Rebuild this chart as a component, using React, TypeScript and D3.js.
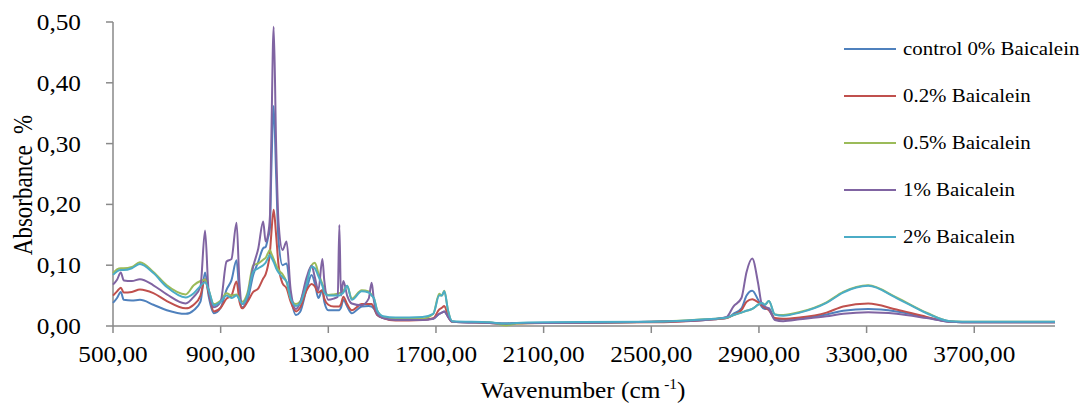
import React from 'react';
import * as d3 from 'd3';

// ---- data ----
const WAVENUMBERS = [
  500, 515, 529, 540, 570, 600, 650, 700, 770, 800, 825, 842, 855, 875, 900, 922, 940, 959, 970, 980,
  1000, 1021, 1040, 1058, 1067, 1076, 1083, 1088, 1097, 1106, 1115, 1130, 1145, 1160, 1180, 1195, 1220,
  1238, 1250, 1263, 1278, 1285, 1300, 1320, 1335, 1341, 1347, 1356, 1370, 1387, 1424, 1450, 1461, 1470,
  1482, 1504, 1550, 1650, 1690, 1712, 1722, 1731, 1745, 1760, 1900, 1960, 2000, 2100, 2500, 2700, 2780,
  2805, 2835, 2854, 2875, 2897, 2910, 2922, 2937, 2959, 2990, 3052, 3151, 3213, 3306, 3411, 3523, 3609,
  3700, 4000,
];

const CONTROL_0 = [
  .038, .046, .056, .043, .042, .043, .035, .026, .020, .026, .040, .088, .050, .021, .030, .060, .075, .108, .050, .031,
  .043, .084, .106, .128, .130, .145, .160, .250, .362, .250, .140, .100, .103, .050, .018, .023, .062,
  .084, .070, .046, .059, .040, .026, .026, .026, .026, .030, .043, .032, .021, .032, .033, .032, .028,
  .018, .013, .010, .011, .012, .020, .022, .024, .015, .007, .005, .004, .005, .005, .007, .010, .013,
  .020, .029, .050, .058, .043, .032, .028, .029, .012, .011, .013, .019, .025, .028, .024, .014, .007,
  .006, .006,
];

const BAICALEIN_02 = [
  .050, .057, .063, .055, .056, .060, .054, .041, .029, .035, .050, .077, .055, .024, .030, .045, .050, .073, .040, .029,
  .040, .056, .062, .078, .085, .100, .120, .150, .191, .150, .100, .070, .062, .040, .024, .030, .059,
  .069, .065, .055, .059, .045, .035, .032, .032, .032, .036, .048, .036, .026, .036, .036, .036, .030,
  .018, .013, .009, .010, .013, .027, .030, .033, .016, .007, .005, .003, .004, .005, .006, .010, .013,
  .018, .026, .040, .044, .039, .034, .030, .026, .013, .012, .014, .022, .032, .037, .027, .015, .007,
  .006, .006,
];

const BAICALEIN_05 = [
  .087, .093, .095, .095, .097, .105, .089, .067, .052, .067, .074, .076, .060, .036, .042, .054, .050, .052, .045, .040,
  .055, .100, .103, .109, .112, .120, .125, .120, .110, .100, .092, .085, .072, .045, .036, .040, .076,
  .100, .104, .087, .069, .060, .051, .052, .053, .054, .055, .058, .066, .045, .059, .057, .051, .045,
  .025, .015, .012, .012, .020, .053, .050, .058, .025, .007, .006, .001, .004, .005, .007, .011, .014,
  .018, .022, .025, .028, .035, .038, .035, .041, .019, .018, .023, .039, .056, .067, .047, .022, .008,
  .007, .007,
];

const BAICALEIN_1 = [
  .068, .076, .088, .075, .074, .077, .067, .052, .037, .048, .065, .157, .060, .031, .040, .106, .110, .170, .070, .036,
  .050, .098, .128, .172, .139, .150, .180, .300, .492, .300, .170, .125, .139, .060, .028, .038, .081,
  .099, .080, .059, .110, .075, .043, .045, .048, .166, .050, .074, .050, .037, .034, .045, .071, .040,
  .020, .013, .010, .010, .012, .020, .022, .024, .015, .007, .005, .004, .005, .005, .007, .010, .015,
  .032, .046, .089, .111, .070, .037, .032, .028, .010, .008, .011, .016, .020, .0225, .020, .013, .007,
  .006, .006,
];

const BAICALEIN_2 = [
  .084, .090, .092, .092, .095, .102, .087, .064, .047, .054, .066, .072, .060, .034, .040, .050, .046, .050, .043, .036,
  .050, .089, .095, .100, .104, .112, .117, .113, .105, .095, .088, .080, .073, .045, .033, .037, .070,
  .098, .095, .082, .066, .055, .050, .050, .050, .050, .052, .055, .066, .043, .057, .055, .050, .045,
  .025, .016, .014, .015, .020, .050, .050, .057, .025, .008, .006, .004, .005, .006, .007, .011, .014,
  .018, .022, .025, .028, .035, .038, .035, .041, .019, .017, .022, .038, .055, .066, .046, .021, .008,
  .007, .007,
];

const SERIES_NAMES = ['control 0% Baicalein', '0.2% Baicalein', '0.5% Baicalein', '1% Baicalein', '2% Baicalein'];
const SERIES_VALUES = [CONTROL_0, BAICALEIN_02, BAICALEIN_05, BAICALEIN_1, BAICALEIN_2];
const SERIES_COLORS = ['#4F81BD', '#C0504D', '#9BBB59', '#8064A2', '#4BACC6'];

const X_TICKS = [500, 900, 1300, 1700, 2100, 2500, 2900, 3300, 3700];
const X_TICK_LABELS = ['500,00', '900,00', '1300,00', '1700,00', '2100,00', '2500,00', '2900,00', '3300,00', '3700,00'];
const Y_TICKS = [0, 0.1, 0.2, 0.3, 0.4, 0.5];
const Y_TICK_LABELS = ['0,00', '0,10', '0,20', '0,30', '0,40', '0,50'];

// ---- layout ----
const WIDTH = 1080;
const HEIGHT = 408;
const FONT = "'Liberation Serif', 'Times New Roman', serif";
const AXIS_COLOR = '#898989';
const SX = 1.1; // horizontal stretch of the reference typography

const x = d3.scaleLinear().domain([500, 4000]).range([113, 1055]);
const y = d3.scaleLinear().domain([0, 0.5]).range([326, 22]);

const line = d3
  .line<number>()
  .x((_, i) => x(WAVENUMBERS[i]))
  .y((d) => y(d))
  .curve(d3.curveMonotoneX);

function Label(props: { x: number; y: number; size: number; anchor?: string; children: React.ReactNode }) {
  return (
    <text
      transform={`translate(${props.x},${props.y}) scale(${SX},1)`}
      textAnchor={props.anchor || 'start'}
      fontSize={props.size}
      fontFamily={FONT}
      fill="#000"
    >
      {props.children}
    </text>
  );
}

export default function App() {
  const legendY = [49, 96, 143, 190, 237];
  return (
    <svg
      width={WIDTH}
      height={HEIGHT}
      style={{ position: 'absolute', left: 0, top: 0, background: '#fff' }}
    >
      <rect x={0} y={0} width={WIDTH} height={HEIGHT} fill="#fff" />

      {/* axes */}
      <line x1={x(500)} x2={x(500)} y1={y(0.5)} y2={y(0)} stroke={AXIS_COLOR} strokeWidth={1.5} />
      <line x1={x(500)} x2={x(4000)} y1={y(0)} y2={y(0)} stroke={AXIS_COLOR} strokeWidth={1.5} />
      {Y_TICKS.map((t, i) => (
        <g key={'yt' + i}>
          <line x1={x(500) - 7} x2={x(500)} y1={y(t)} y2={y(t)} stroke={AXIS_COLOR} strokeWidth={1.5} />
          <Label x={81} y={y(t) + 8} size={23} anchor="end">
            {Y_TICK_LABELS[i]}
          </Label>
        </g>
      ))}
      {X_TICKS.map((t, i) => (
        <g key={'xt' + i}>
          <line x1={x(t)} x2={x(t)} y1={y(0)} y2={y(0) + 7} stroke={AXIS_COLOR} strokeWidth={1.5} />
          <Label x={x(t)} y={362} size={23} anchor="middle">
            {X_TICK_LABELS[i]}
          </Label>
        </g>
      ))}

      {/* axis titles */}
      <text
        transform={`translate(32,185) rotate(-90) scale(1,1.2)`}
        textAnchor="middle"
        fontSize={23}
        fontFamily={FONT}
        fill="#000"
        style={{ whiteSpace: 'pre' }}
      >
        {'Absorbance  %'}
      </text>
      <text
        transform={`translate(583,398) scale(${SX},1)`}
        textAnchor="middle"
        fontSize={23}
        fontFamily={FONT}
        fill="#000"
      >
        Wavenumber (cm
        <tspan fontSize={14} dy={-9}>
          {' -1'}
        </tspan>
        <tspan dy={9}>)</tspan>
      </text>

      {/* series */}
      {SERIES_VALUES.map((vals, i) => (
        <path
          key={'s' + i}
          d={line(vals) || ''}
          fill="none"
          stroke={SERIES_COLORS[i]}
          strokeWidth={2}
          strokeLinejoin="round"
        />
      ))}

      {/* legend */}
      {SERIES_NAMES.map((name, i) => (
        <g key={'lg' + i}>
          <line x1={844} x2={896} y1={legendY[i]} y2={legendY[i]} stroke={SERIES_COLORS[i]} strokeWidth={2} />
          <Label x={903} y={legendY[i] + 6} size={19}>
            {name}
          </Label>
        </g>
      ))}
    </svg>
  );
}
